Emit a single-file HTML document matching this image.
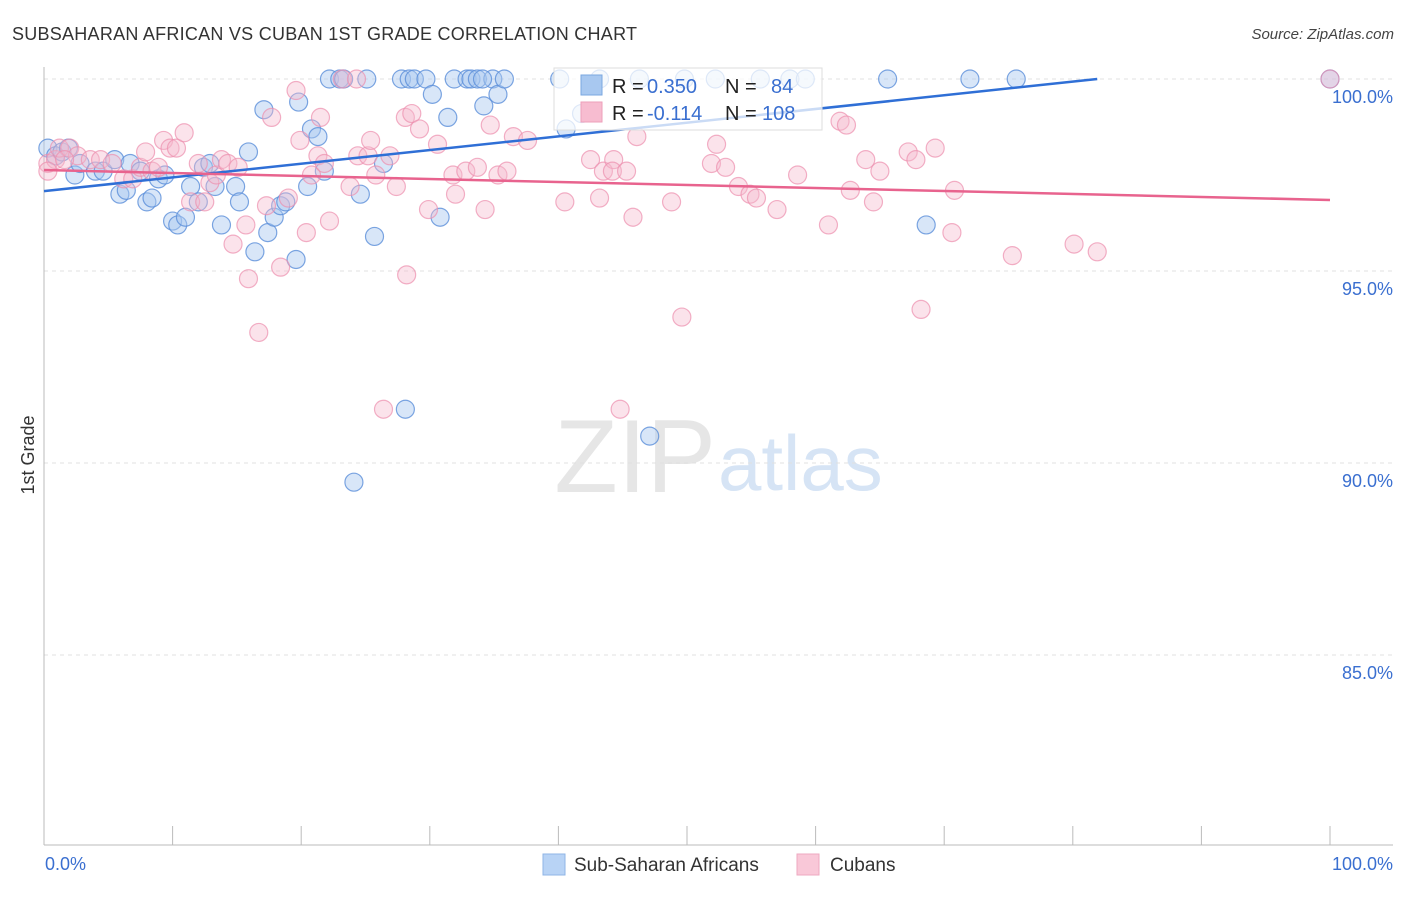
<!DOCTYPE html>
<html><head><meta charset="utf-8"><style>
body{margin:0;background:#fff;width:1406px;height:892px;overflow:hidden;font-family:"Liberation Sans",sans-serif}
svg text{font-family:"Liberation Sans",sans-serif}
</style></head><body>
<svg id="chart" width="1406" height="892">
<text x="12" y="40" font-size="18" fill="#333" textLength="625">SUBSAHARAN AFRICAN VS CUBAN 1ST GRADE CORRELATION CHART</text>
<text x="1394" y="39" font-size="15" fill="#444" font-style="italic" text-anchor="end">Source: ZipAtlas.com</text>
<text x="716" y="492" font-size="104" fill="#e6e6e6" text-anchor="end" font-family="Liberation Serif">ZIP</text>
<text x="718" y="490" font-size="78" fill="#d6e4f5">atlas</text>
<text transform="translate(34,455) rotate(-90)" font-size="18" fill="#333" text-anchor="middle">1st Grade</text>
<g id="grid"></g><g id="axes"></g><g id="pts"></g><g id="trends"></g>
<g>
<rect x="554" y="68" width="268" height="62" fill="#fff" fill-opacity="0.75" stroke="#ddd"/>
<rect x="581" y="75" width="21" height="20" fill="#a8c8f0" stroke="#7aa7e0"/>
<rect x="581" y="102" width="21" height="20" fill="#f7bcd0" stroke="#ee9fba"/>
<text x="612" y="93" font-size="20" fill="#222">R =</text>
<text x="647" y="93" font-size="20" fill="#3a6fd0">0.350</text>
<text x="725" y="93" font-size="20" fill="#222">N =</text>
<text x="771" y="93" font-size="20" fill="#3a6fd0">84</text>
<text x="612" y="120" font-size="20" fill="#222">R =</text>
<text x="647" y="120" font-size="20" fill="#3a6fd0">-0.114</text>
<text x="725" y="120" font-size="20" fill="#222">N =</text>
<text x="762" y="120" font-size="20" fill="#3a6fd0">108</text>
</g>
<g>
<rect x="543" y="854" width="22" height="21" fill="#b8d3f5" stroke="#8fb4e6"/>
<text x="574" y="871" font-size="19" fill="#333">Sub-Saharan Africans</text>
<rect x="797" y="854" width="22" height="21" fill="#f9c8d8" stroke="#eea9c0"/>
<text x="830" y="871" font-size="19" fill="#333">Cubans</text>
</g>
</svg>
<script>
const blueX=[0.3,0.9,1.4,1.9,2.4,2.8,4.0,4.6,5.5,5.9,6.4,6.7,7.5,8.0,8.4,8.9,9.4,10.0,10.4,11.0,11.4,12.0,12.4,12.9,13.3,13.8,14.9,15.2,15.9,16.4,17.1,17.4,17.9,18.4,18.8,19.6,19.8,20.8,21.3,20.5,21.8,22.2,23.0,24.6,25.1,25.7,26.4,27.8,28.4,28.8,29.7,30.2,31.4,31.9,32.9,33.2,33.7,34.9,35.3,35.8,34.2,30.8,28.1,24.1,47.1,40.6,40.1,43.2,46.3,49.8,52.2,55.7,58.0,59.2,65.6,68.6,72.0,75.6,100,34.1,23.3,41.8];
const blueY=[98.2,98.0,98.1,98.2,97.5,97.8,97.6,97.6,97.9,97.0,97.1,97.8,97.6,96.8,96.9,97.4,97.5,96.3,96.2,96.4,97.2,96.8,97.7,97.8,97.2,96.2,97.2,96.8,98.1,95.5,99.2,96.0,96.4,96.7,96.8,95.3,99.4,98.7,98.5,97.2,97.6,100,100,97.0,100,95.9,97.8,100,100,100,100,99.6,99.0,100,100,100,100,100,99.6,100,99.3,96.4,91.4,89.5,90.7,98.7,100,100,100,100,100,100,100,100,100,96.2,100,100,100,100,100,99.1];
const pinkX=[0.3,0.9,1.2,2.0,2.6,3.6,4.4,5.3,6.2,6.9,7.5,7.9,8.4,8.9,9.3,9.8,10.3,10.9,11.4,12.0,12.5,12.9,13.4,13.8,14.3,14.7,15.1,15.7,15.9,16.7,17.3,17.7,18.4,19.0,19.6,19.9,20.4,20.8,21.3,21.5,21.8,22.2,23.2,24.3,24.4,23.8,25.2,25.4,25.8,26.4,26.9,27.4,28.1,28.2,28.6,29.2,29.9,30.6,31.8,32.0,32.8,33.7,34.3,34.7,35.3,36.0,36.5,37.6,40.5,42.5,43.2,43.5,44.3,44.2,44.8,45.3,45.8,46.1,48.8,49.6,51.9,52.3,53.0,54.0,54.9,55.4,57.0,58.6,61.0,61.9,62.4,62.7,63.9,64.5,65.0,67.2,67.8,68.2,69.3,70.6,70.8,75.3,80.1,81.9,100,0.3,1.6];
const pinkY=[97.8,97.9,98.2,98.2,98.0,97.9,97.9,97.8,97.4,97.4,97.7,98.1,97.6,97.7,98.4,98.2,98.2,98.6,96.8,97.8,96.8,97.3,97.5,97.9,97.8,95.7,97.7,96.2,94.8,93.4,96.7,99.0,95.1,96.9,99.7,98.4,96.0,97.5,98.0,99.0,97.8,96.3,100,100,98.0,97.2,98.0,98.4,97.5,91.4,98.0,97.2,99.0,94.9,99.1,98.7,96.6,98.3,97.5,97.0,97.6,97.7,96.6,98.8,97.5,97.6,98.5,98.4,96.8,97.9,96.9,97.6,97.9,97.6,91.4,97.6,96.4,98.5,96.8,93.8,97.8,98.3,97.7,97.2,97.0,96.9,96.6,97.5,96.2,98.9,98.8,97.1,97.9,96.8,97.6,98.1,97.9,94.0,98.2,96.0,97.1,95.4,95.7,95.5,100,97.6,97.9];
const yTicks=[100,95,90,85];
const yTickLabels=["100.0%","95.0%","90.0%","85.0%"];
const blueTrend=[[0,97.08],[81.9,100]];
const pinkTrend=[[0,97.63],[100,96.85]];
const X=v=>44+v*12.86, Y=v=>79+(100-v)*38.4;
const NS="http://www.w3.org/2000/svg";
function mk(tag,attrs,parent){const e=document.createElementNS(NS,tag);for(const k in attrs)e.setAttribute(k,attrs[k]);document.getElementById(parent).appendChild(e);return e;}
yTicks.forEach((t,i)=>{
 const g=mk('line',{x1:44,x2:1393,y1:Y(t),y2:Y(t),stroke:'#e0e0e0','stroke-dasharray':'4,4'},'grid');
 
 
 const l=mk('text',{x:1393,y:Y(t)+24,'font-size':18,fill:'#3a6fd0','text-anchor':'end'},'grid');
 l.textContent=yTickLabels[i];
 
 
});
const ax=mk('line',{x1:44,x2:44,y1:67,y2:845,stroke:'#bbb'},'axes');


const bx=mk('line',{x1:44,x2:1393,y1:845,y2:845,stroke:'#bbb'},'axes');


for(let i=1;i<=10;i++){const t=mk('line',{x1:X(i*10),x2:X(i*10),y1:826,y2:845,stroke:'#bbb'},'axes');
 
 }
const xl0=mk('text',{x:45,y:870,'font-size':18,fill:'#3a6fd0'},'axes');xl0.textContent='0.0%';


const xl1=mk('text',{x:1393,y:870,'font-size':18,fill:'#3a6fd0','text-anchor':'end'},'axes');xl1.textContent='100.0%';


blueX.forEach((v,i)=>{const c=mk('circle',{cx:X(v),cy:Y(blueY[i]),r:9,fill:'#a8c8f0','fill-opacity':0.45,stroke:'#5b8fd9','stroke-opacity':0.8,'stroke-width':1.2},'pts');
 
 });
pinkX.forEach((v,i)=>{const c=mk('circle',{cx:X(v),cy:Y(pinkY[i]),r:9,fill:'#f6b8cc','fill-opacity':0.4,stroke:'#ec8fae','stroke-opacity':0.7,'stroke-width':1.2},'pts');
 
 });
const bl=mk('line',{x1:X(blueTrend[0][0]),y1:Y(blueTrend[0][1]),x2:X(blueTrend[1][0]),y2:Y(blueTrend[1][1]),stroke:'#2f6fd6','stroke-width':2.5},'trends');


const pl=mk('line',{x1:X(pinkTrend[0][0]),y1:Y(pinkTrend[0][1]),x2:X(pinkTrend[1][0]),y2:Y(pinkTrend[1][1]),stroke:'#e8638e','stroke-width':2.5},'trends');


</script>
</body></html>
